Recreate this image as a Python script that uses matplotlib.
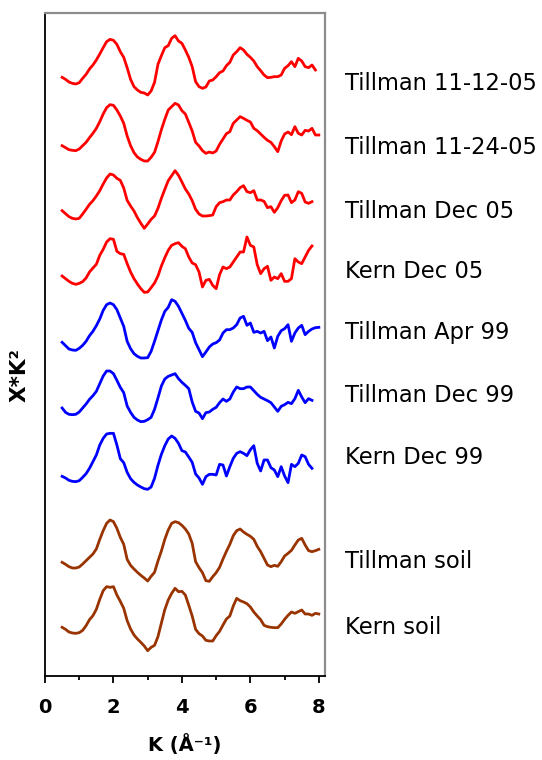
import numpy as np
import matplotlib
matplotlib.use("Agg")
import matplotlib.pyplot as plt

# k grid (1/A), sampled every 0.1
k = np.arange(5, 81) / 10.0

labels = ["Tillman 11-12-05", "Tillman 11-24-05", "Tillman Dec 05", "Kern Dec 05",
          "Tillman Apr 99", "Tillman Dec 99", "Kern Dec 99", "Tillman soil", "Kern soil"]
colors = ["#ff0000"] * 4 + ["#0000ff"] * 3 + ["#993300"] * 2
# vertical stacking offsets for each spectrum
offsets = [1803, 1593, 1398, 1212, 1014, 822, 633, 348, 148]

# chi*k^2 (arbitrary units)
tillman_111205 = [-7, -13, -21, -25, -27, -23, -10, 2, 18, 30, 45, 63, 82, 100, 107, 104, 92, 70, 53, 22,
                  -13, -35, -45, -52, -54, -60, -48, -22, 32, 58, 82, 88, 110, 118, 102, 95, 75, 53, 25, -20,
                  -35, -40, -36, -18, -15, -5, 7, 12, 28, 38, 60, 70, 82, 75, 62, 53, 42, 25, 13, 0,
                  -8, -7, -5, -5, 0, 20, 28, 40, 25, 50, 42, 25, 22, 30, 15]
tillman_112405 = [-2, -8, -14, -16, -17, -12, -2, 8, 22, 35, 50, 70, 93, 112, 121, 119, 105, 87, 65, 27,
                  -2, -23, -36, -43, -48, -48, -37, -22, 10, 46, 77, 105, 115, 125, 120, 103, 93, 68, 42, 8,
                  -3, -17, -25, -21, -24, -18, 2, 18, 34, 40, 65, 75, 85, 80, 74, 69, 50, 43, 33, 23,
                  14, 8, -5, -20, 12, 33, 39, 31, 55, 35, 30, 44, 42, 50, 30, 30]
tillman_dec05 = [-2, -11, -20, -25, -27, -25, -12, 2, 17, 28, 42, 58, 78, 96, 108, 105, 95, 89, 66, 29,
                 12, -3, -23, -40, -55, -42, -28, -18, 5, 35, 62, 88, 103, 118, 104, 84, 63, 48, 28, 2,
                 -12, -18, -18, -17, -15, 10, 22, 25, 30, 30, 45, 55, 67, 73, 55, 52, 58, 30, 30, 26,
                 7, 10, -7, 7, 28, 44, 45, 22, 30, 55, 50, 24, 20, 25]
kern_dec05 = [-12, -20, -28, -34, -37, -34, -29, -18, 0, 12, 23, 50, 68, 90, 100, 98, 62, 55, 53, 25,
              0, -20, -36, -50, -61, -60, -47, -33, -12, 18, 43, 65, 80, 85, 88, 77, 70, 45, 27, 22,
              0, -45, -25, -22, -40, -50, -8, 15, 10, 15, 30, 45, 60, 60, 105, 80, 75, 22, -5, 10,
              17, -25, -15, -20, -5, -28, -28, -20, 40, 30, 25, 45, 65, 78]
tillman_apr99 = [-13, -23, -33, -36, -37, -31, -22, -10, 7, 20, 37, 57, 83, 100, 105, 100, 85, 60, 35, -10,
                 -32, -47, -55, -60, -60, -59, -40, -10, 22, 54, 80, 92, 115, 110, 95, 74, 53, 29, 17, -14,
                 -35, -56, -42, -27, -18, -14, -6, 15, 25, 25, 30, 40, 60, 65, 38, 45, 17, 20, 15, 20,
                 -8, 3, -30, 5, 22, 28, 40, -10, 15, 30, 38, 10, 20, 27, 31, 32]
tillman_dec99 = [-18, -31, -37, -38, -37, -30, -18, -6, 8, 19, 32, 55, 78, 93, 93, 85, 65, 44, 28, -12,
                 -31, -46, -54, -59, -58, -53, -46, -22, 12, 48, 69, 77, 81, 85, 70, 59, 50, 40, 0, -28,
                 -33, -50, -32, -30, -22, -16, -2, 9, 2, 9, 30, 45, 40, 40, 45, 45, 34, 23, 14, 9,
                 4, -2, -15, -28, -13, -8, -1, -5, 10, 35, 15, -2, 10, 5]
kern_dec99 = [-34, -39, -46, -49, -50, -47, -37, -26, -10, 10, 30, 60, 80, 93, 95, 95, 60, 19, 7, -22,
              -41, -52, -60, -66, -71, -73, -66, -40, -1, 32, 58, 78, 87, 80, 65, 43, 39, 24, 8, -27,
              -39, -58, -35, -28, -28, -30, 2, 0, -33, -5, 20, 35, 40, 35, 28, 46, 58, 5, -18, 15,
              15, -8, -15, -35, -5, -33, -53, 2, -5, 5, 30, 25, 2, -10]
tillman_soil = [-7, -13, -20, -24, -24, -21, -12, -2, 8, 18, 33, 62, 88, 110, 120, 115, 95, 68, 47, 2,
                -16, -27, -37, -46, -54, -63, -49, -37, -3, 27, 62, 90, 110, 115, 112, 104, 93, 78, 50, -5,
                -23, -38, -62, -64, -50, -38, -22, 3, 26, 47, 73, 88, 93, 84, 77, 71, 62, 41, 25, 5,
                -15, -20, -16, -19, -5, 12, 20, 29, 45, 60, 65, 45, 28, 25, 28, 32]
kern_soil = [-2, -8, -16, -19, -20, -18, -11, 3, 21, 33, 52, 82, 108, 120, 118, 120, 95, 76, 55, 18,
             -7, -25, -37, -47, -58, -72, -62, -56, -30, 11, 51, 80, 100, 115, 105, 106, 95, 64, 32, -8,
             -21, -28, -41, -43, -43, -27, -14, 5, 23, 32, 62, 85, 78, 74, 69, 59, 44, 32, 21, 4,
             0, -2, -3, -3, 8, 22, 34, 44, 40, 45, 50, 38, 38, 34, 40, 38]

series = [tillman_111205, tillman_112405, tillman_dec05, kern_dec05,
          tillman_apr99, tillman_dec99, kern_dec99, tillman_soil, kern_soil]

fig = plt.figure(figsize=(5.42, 7.6), dpi=100)
ax = fig.add_axes([45 / 542, 84 / 760, 280 / 542, 663 / 760])

for vals, off, col in zip(series, offsets, colors):
    vals = np.array(vals)
    ax.plot(k[:len(vals)], vals + off, color=col, lw=2.0, solid_joinstyle="round")

ax.set_xlim(0, 8.18)
ax.set_ylim(0, 1989)
ax.set_yticks([])
ax.set_xticks([0, 2, 4, 6, 8])
ax.set_xticks([1, 3, 5, 7], minor=True)
ax.tick_params(axis="x", which="major", direction="out", length=5, width=1.3, pad=11,
               labelsize=14)
ax.tick_params(axis="x", which="minor", direction="out", length=3, width=1.3)
for lab in ax.get_xticklabels():
    lab.set_fontweight("bold")

ax.spines["left"].set_color("black")
ax.spines["bottom"].set_color("black")
ax.spines["left"].set_linewidth(1.3)
ax.spines["bottom"].set_linewidth(1.3)
ax.spines["top"].set_color("#8c8c8c")
ax.spines["right"].set_color("#8c8c8c")
ax.spines["top"].set_linewidth(1.6)
ax.spines["right"].set_linewidth(1.6)

fig.text(185 / 542, 1 - 745 / 760, "K (Å⁻¹)", ha="center", va="center",
         fontsize=14, fontweight="bold")
fig.text(20 / 542, 1 - 375 / 760, "X*K²", ha="center", va="center", rotation=90,
         fontsize=15.5, fontweight="bold")

label_y = [83, 148, 212, 272, 333, 395, 457, 561, 627]
for lab, yy in zip(labels, label_y):
    fig.text(345 / 542, 1 - yy / 760, lab, ha="left", va="center", fontsize=16.3)

fig.savefig("out.png", dpi=100)
